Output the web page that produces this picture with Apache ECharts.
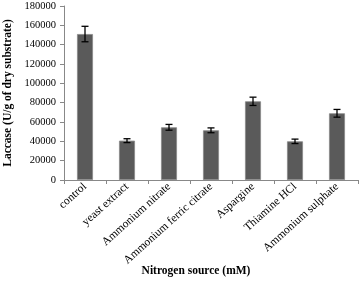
<!DOCTYPE html>
<html>
<head>
<meta charset="utf-8">
<script src="https://cdn.jsdelivr.net/npm/echarts@6/dist/echarts.min.js"></script>
<style>
  html, body { margin: 0; padding: 0; background: #fff; }
  #chart { width: 360px; height: 285px; }
</style>
</head>
<body>
<div id="chart"></div>
<script>
var categories = ["control", "yeast extract", "Ammonium nitrate", "Ammonium ferric citrate",
  "Aspargine", "Thiamine HCl", "Ammonium sulphate"];
var laccase = [151000, 40700, 54500, 51400, 81400, 40000, 69000];
var errors = [8000, 2000, 3000, 2500, 4300, 2300, 4000];
var yTicks = [0, 20000, 40000, 60000, 80000, 100000, 120000, 140000, 160000, 180000];

var errData = laccase.map(function (v, i) {
  return [i, v - errors[i], v + errors[i]];
});

var myChart = echarts.init(document.getElementById("chart"));
var font = "Liberation Serif";
var option = {
  animation: false,
  textStyle: { fontFamily: font },
  grid: { left: 64, right: 2, top: 6, bottom: 105, outerBoundsMode: "none", containLabel: false },
  xAxis: {
    type: "category",
    data: categories,
    name: "Nitrogen source (mM)",
    nameLocation: "middle",
    nameGap: 85,
    nameMoveOverlap: false,
    nameTextStyle: { fontFamily: font, fontWeight: "bold", fontSize: 11.5, color: "#000", padding: [0, 30, 0, 0] },
    axisLine: { lineStyle: { color: "#888" } },
    axisTick: { show: true, alignWithLabel: false, length: 4, lineStyle: { color: "#888" } },
    axisLabel: { rotate: 42, fontSize: 11.5, color: "#000", fontFamily: font, margin: 5, interval: 0 }
  },
  yAxis: {
    type: "value",
    min: 0,
    max: 180000,
    interval: 20000,
    name: "Laccase (U/g of dry substrate)",
    nameLocation: "middle",
    nameGap: 45,
    nameTextStyle: { fontFamily: font, fontWeight: "bold", fontSize: 11.5, color: "#000" },
    axisLine: { show: true, lineStyle: { color: "#888" } },
    axisTick: { show: true, length: 4, lineStyle: { color: "#888" } },
    splitLine: { show: false },
    axisLabel: {
      fontSize: 10.5, color: "#000", fontFamily: font, margin: 8,
      formatter: function (v) { return yTicks.indexOf(v) >= 0 ? String(v) : ""; }
    }
  },
  series: [
    {
      type: "bar",
      data: laccase,
      barWidth: "38%",
      itemStyle: { color: "#5a5a5a", borderColor: "#888", borderWidth: 0.8 }
    },
    {
      type: "custom",
      data: errData,
      z: 5,
      renderItem: function (params, api) {
        var lo = api.coord([api.value(0), api.value(1)]);
        var hi = api.coord([api.value(0), api.value(2)]);
        var w = 3.5;
        var style = { stroke: "#000", lineWidth: 1.3 };
        return {
          type: "group",
          children: [
            { type: "line", shape: { x1: lo[0], y1: lo[1], x2: hi[0], y2: hi[1] }, style: style },
            { type: "line", shape: { x1: lo[0] - w, y1: lo[1], x2: lo[0] + w, y2: lo[1] }, style: style },
            { type: "line", shape: { x1: hi[0] - w, y1: hi[1], x2: hi[0] + w, y2: hi[1] }, style: style }
          ]
        };
      }
    }
  ]
};
myChart.setOption(option);
</script>
</body>
</html>
